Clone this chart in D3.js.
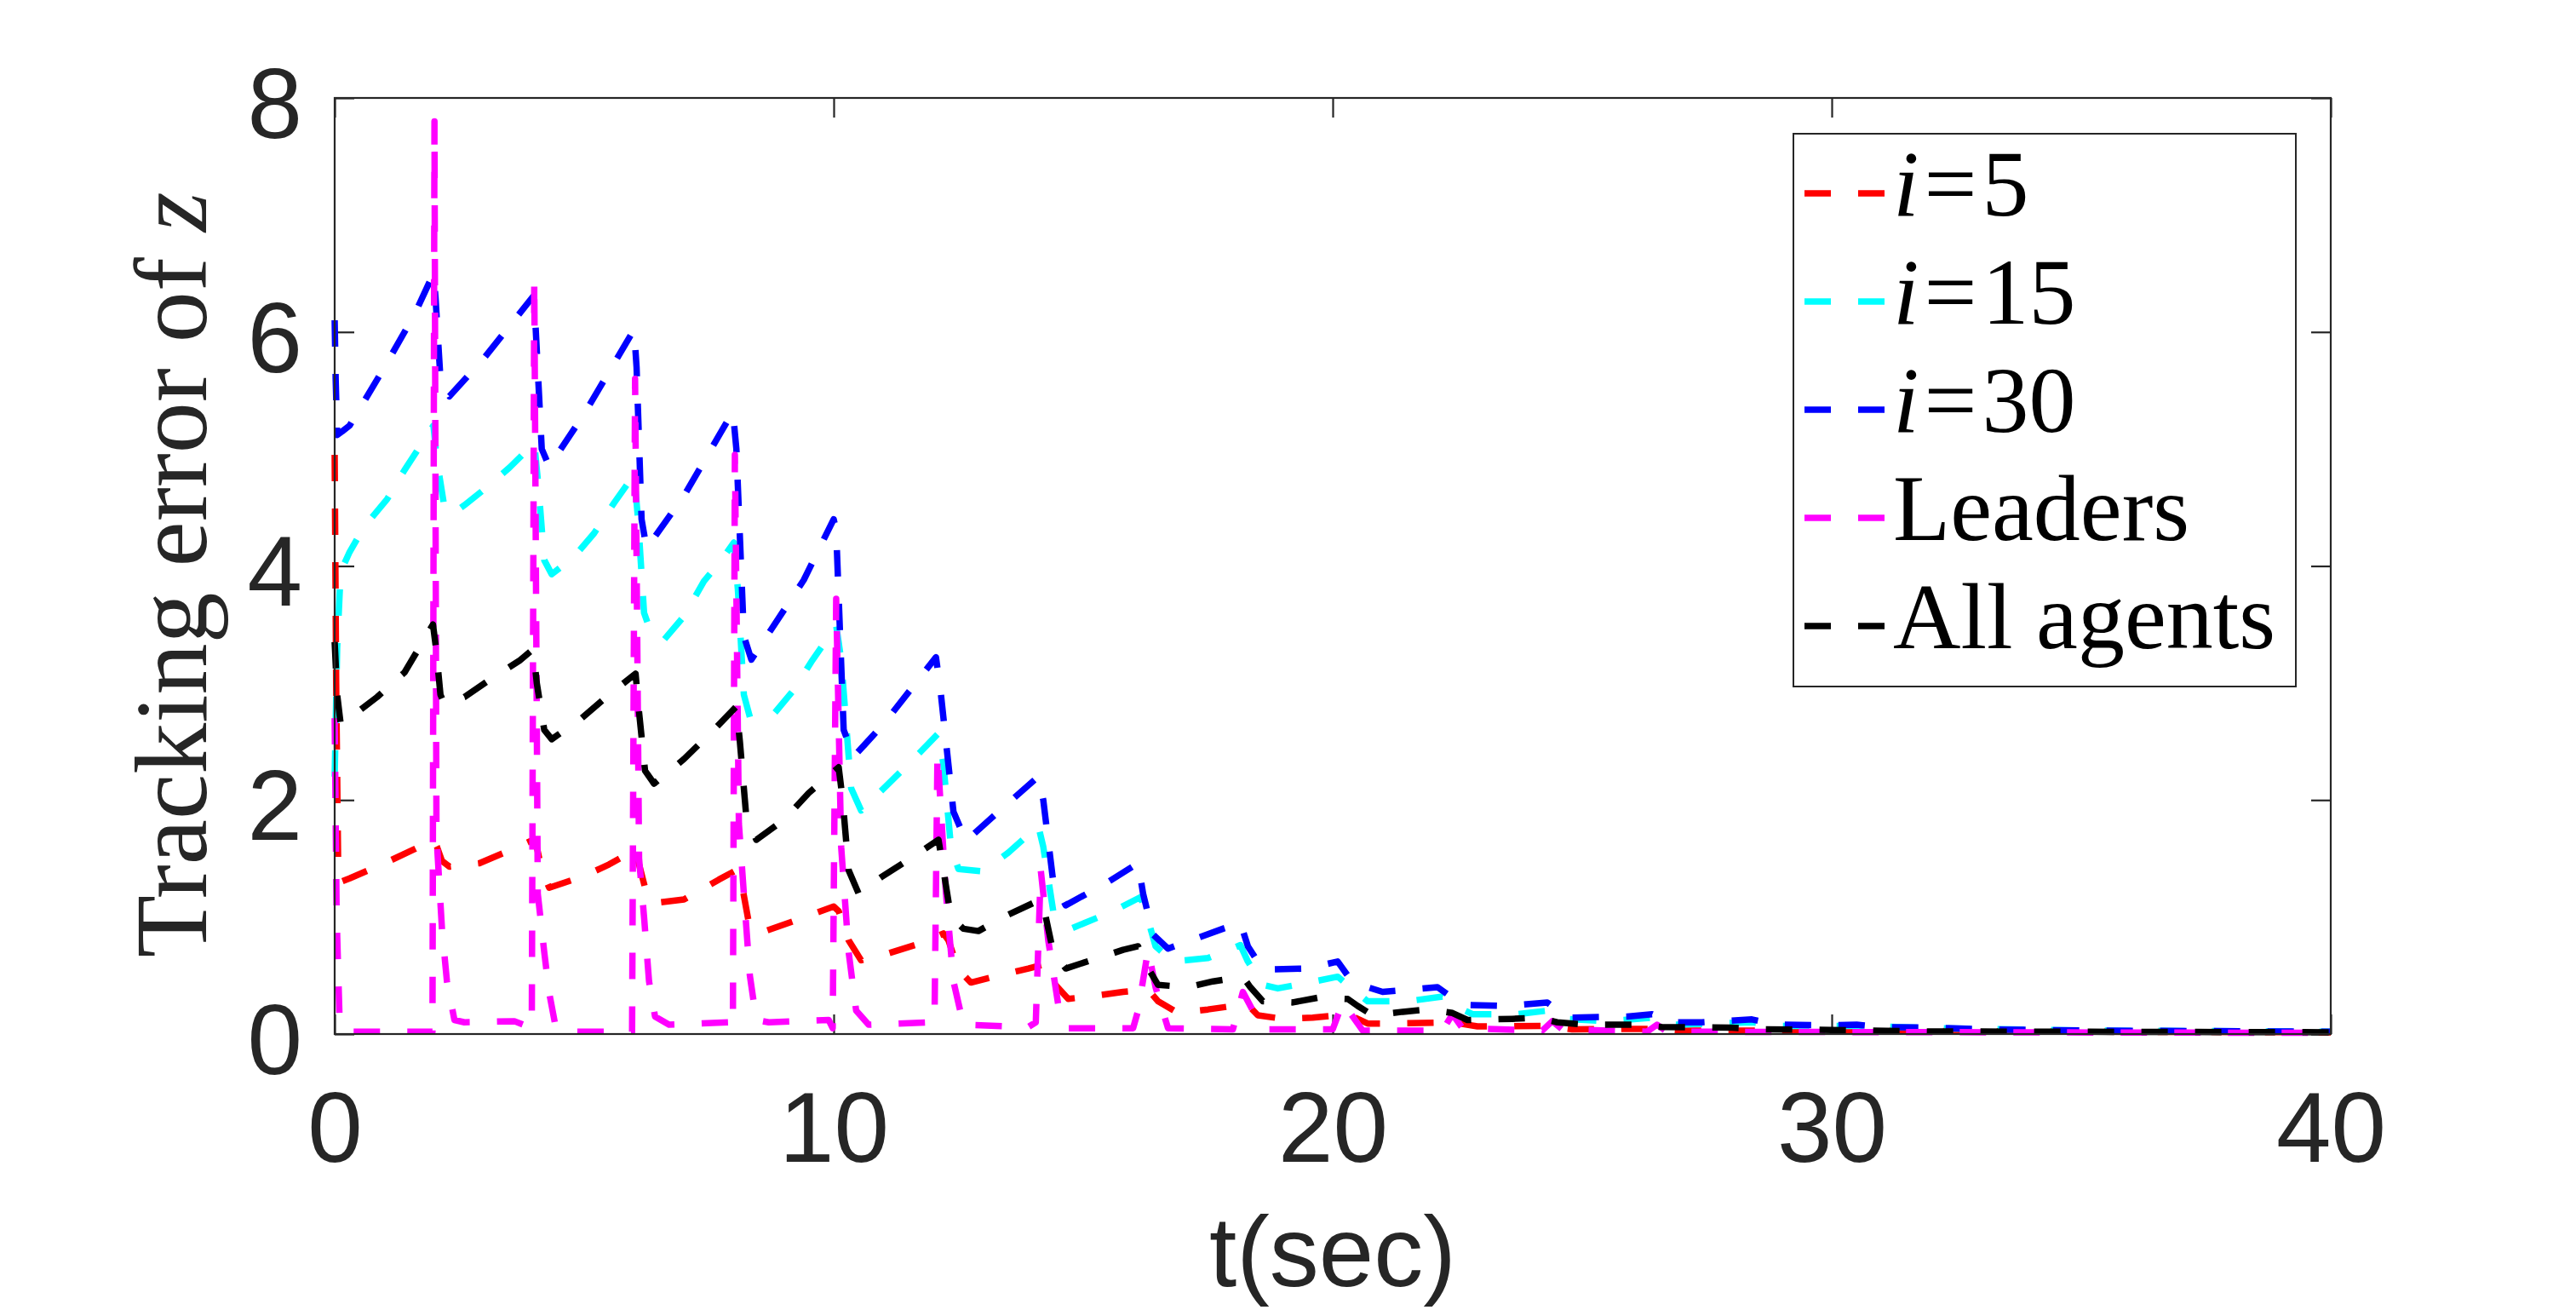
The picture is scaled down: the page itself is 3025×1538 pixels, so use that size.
<!DOCTYPE html>
<html>
<head>
<meta charset="utf-8">
<script src="https://cdn.jsdelivr.net/npm/d3@7"></script>
<style>
body { margin: 0; background: #fff; }
</style>
</head>
<body>
<div id="chart"></div>
<script>
//Size of the SVG
var W = 3025,
	H = 1538;

///////////////////////////////////////////////////////////////////////////
///////////////////////////////// Data ////////////////////////////////////
///////////////////////////////////////////////////////////////////////////

var xTicks = [0, 10, 20, 30, 40],
	yTicks = [0, 2, 4, 6, 8];

var seriesNames = ["i=5", "i=15", "i=30", "Leaders", "All agents"],
	seriesColors = ["#ff0000", "#00ffff", "#0000ff", "#ff00ff", "#000000"];

//[t, error] pairs
var agent5 = [[0,4.95],[0.03,3.0],[0.07,1.45],[0.12,1.3],[0.3,1.33],[1.0,1.46],[1.6,1.58],[1.98,1.66],[2.05,1.6],[2.15,1.48],
	[2.3,1.43],[2.9,1.46],[3.4,1.55],[3.98,1.66],[4.05,1.6],[4.15,1.4],[4.3,1.25],[5.0,1.35],[5.5,1.45],[6.0,1.57],
	[6.1,1.45],[6.25,1.2],[6.4,1.12],[7.0,1.15],[7.7,1.32],[8.05,1.4],[8.15,1.3],[8.3,0.95],[8.5,0.86],[9.3,0.98],
	[10.0,1.09],[10.1,1.05],[10.3,0.8],[10.55,0.63],[11.1,0.69],[11.7,0.77],[12.2,0.86],[12.3,0.8],[12.5,0.55],[12.75,0.44],
	[13.3,0.5],[13.9,0.56],[14.25,0.6],[14.4,0.44],[14.7,0.3],[15.3,0.33],[15.8,0.36],[16.3,0.38],[16.5,0.28],[16.9,0.18],
	[17.5,0.21],[18.0,0.24],[18.3,0.25],[18.5,0.16],[19.0,0.13],[19.6,0.14],[20.3,0.17],[20.7,0.09],[21.2,0.09],[22.4,0.1],
	[22.9,0.065],[24.3,0.07],[24.8,0.04],[26.5,0.045],[27,0.03],[30,0.03],[35,0.02],[40,0.015]];

var agent15 = [[0,2.2],[0.05,3.3],[0.12,3.95],[0.3,4.12],[0.6,4.34],[1.05,4.57],[1.4,4.82],[1.98,5.2],[2.05,4.9],[2.2,4.5],
	[2.35,4.44],[2.6,4.52],[3.1,4.69],[3.5,4.84],[4.0,5.05],[4.08,4.7],[4.2,4.05],[4.35,3.93],[4.8,4.08],[5.2,4.28],
	[5.6,4.54],[6.0,4.78],[6.08,4.4],[6.2,3.6],[6.35,3.42],[6.6,3.37],[7.0,3.57],[7.4,3.87],[7.75,4.05],[8.0,4.2],
	[8.08,3.8],[8.2,2.9],[8.32,2.71],[8.75,2.71],[9.2,2.94],[9.55,3.18],[10.05,3.49],[10.15,3.2],[10.35,2.1],[10.55,1.91],
	[11.1,2.14],[11.6,2.35],[12.1,2.57],[12.2,2.3],[12.35,1.6],[12.5,1.41],[13.0,1.39],[13.5,1.55],[14.1,1.78],[14.2,1.6],
	[14.4,1.05],[14.75,0.9],[15.6,1.05],[16.15,1.17],[16.25,1.05],[16.45,0.75],[16.8,0.62],[17.5,0.65],[18.15,0.76],[18.3,0.62],
	[18.6,0.42],[18.9,0.39],[19.4,0.43],[20.1,0.49],[20.3,0.42],[20.7,0.28],[21.5,0.28],[22.2,0.32],[22.4,0.25],[22.8,0.17],
	[23.7,0.17],[24.3,0.2],[24.6,0.13],[25.5,0.11],[26.4,0.14],[26.8,0.08],[28.4,0.1],[29,0.07],[30.5,0.07],[32,0.05],
	[35,0.03],[40,0.02]];

var agent30 = [[0,6.1],[0.02,5.6],[0.05,5.12],[0.15,5.15],[0.3,5.2],[1.0,5.7],[1.6,6.15],[1.98,6.5],[2.02,6.3],[2.12,5.6],
	[2.3,5.45],[3.0,5.78],[3.97,6.3],[4.02,6.1],[4.15,5.0],[4.3,4.85],[5.0,5.3],[6.0,6.02],[6.05,5.7],[6.15,4.4],
	[6.25,4.15],[7.0,4.6],[7.98,5.32],[8.05,5.0],[8.2,3.4],[8.35,3.2],[9.4,3.88],[10.0,4.4],[10.05,4.3],[10.2,2.6],
	[10.4,2.37],[11.0,2.65],[12.05,3.22],[12.15,2.9],[12.4,1.9],[12.65,1.65],[13.3,1.9],[14.1,2.2],[14.2,2.0],[14.4,1.3],
	[14.65,1.1],[15.5,1.3],[16.1,1.46],[16.2,1.2],[16.4,0.85],[16.7,0.73],[17.8,0.9],[18.15,0.95],[18.3,0.75],[18.6,0.55],
	[19.5,0.56],[20.1,0.62],[20.4,0.44],[21,0.36],[22.1,0.4],[22.6,0.25],[23.5,0.24],[24.3,0.27],[24.7,0.14],[25.9,0.15],
	[26.4,0.17],[26.8,0.1],[27.4,0.1],[28.4,0.125],[28.9,0.08],[29.9,0.075],[30.5,0.08],[31,0.06],[32,0.055],[33,0.04],
	[35,0.03],[40,0.02]];

var leaders = [[0,2.7],[0.04,1.0],[0.1,0.1],[0.3,0.02],[1.96,0.02],[2.0,7.8],[2.04,1.7],[2.15,0.9],[2.25,0.45],[2.4,0.12],
	[2.6,0.1],[3.6,0.11],[3.95,0.05],[4.0,6.45],[4.07,1.2],[4.2,0.7],[4.3,0.35],[4.42,0.08],[4.6,0.02],[5.96,0.02],
	[6.02,5.6],[6.1,1.5],[6.2,1.0],[6.3,0.45],[6.42,0.15],[6.7,0.08],[7.9,0.1],[7.98,0.05],[8.02,4.95],[8.1,1.8],
	[8.2,1.2],[8.32,0.5],[8.45,0.12],[8.7,0.1],[9.9,0.12],[9.98,0.05],[10.05,3.72],[10.15,1.6],[10.3,0.7],[10.45,0.2],
	[10.7,0.08],[11.9,0.1],[12.02,0.1],[12.08,2.4],[12.25,1.2],[12.4,0.45],[12.6,0.08],[13.9,0.06],[14.05,0.1],[14.15,1.4],
	[14.3,0.8],[14.5,0.25],[14.7,0.05],[16.0,0.05],[16.1,0.2],[16.3,0.72],[16.45,0.4],[16.7,0.05],[18.0,0.04],[18.2,0.36],
	[18.4,0.2],[18.7,0.04],[20.0,0.04],[20.2,0.27],[20.4,0.15],[20.6,0.03],[22.2,0.03],[22.4,0.17],[22.6,0.05],[24.2,0.03],
	[24.4,0.11],[24.6,0.04],[26.3,0.02],[26.5,0.08],[26.7,0.02],[40,0.01]];

var allAgents = [[0,3.35],[0.05,2.9],[0.12,2.65],[0.3,2.7],[0.85,2.88],[1.4,3.09],[1.97,3.5],[2.03,3.3],[2.12,2.9],[2.2,2.82],
	[2.6,2.88],[3.15,3.04],[3.7,3.19],[3.98,3.29],[4.05,3.0],[4.2,2.6],[4.35,2.52],[4.95,2.7],[5.5,2.9],[6.03,3.08],
	[6.1,2.75],[6.22,2.25],[6.4,2.14],[7.0,2.35],[7.6,2.6],[8.05,2.8],[8.12,2.5],[8.25,1.85],[8.45,1.66],[9.0,1.83],
	[9.5,2.06],[10.1,2.28],[10.18,2.0],[10.3,1.4],[10.5,1.2],[10.95,1.34],[11.5,1.49],[12.1,1.66],[12.2,1.4],[12.35,1.0],
	[12.6,0.9],[12.9,0.88],[13.4,1.0],[14.15,1.15],[14.25,1.0],[14.4,0.7],[14.65,0.56],[15.3,0.65],[15.8,0.72],[16.1,0.75],
	[16.25,0.6],[16.5,0.42],[17.1,0.4],[17.6,0.45],[18.2,0.49],[18.35,0.4],[18.6,0.28],[19.2,0.27],[19.7,0.31],[20.3,0.3],
	[20.5,0.24],[20.8,0.16],[21.4,0.19],[21.9,0.21],[22.4,0.18],[22.7,0.12],[23.6,0.13],[24.1,0.14],[24.5,0.1],[25.1,0.08],
	[26,0.08],[26.6,0.06],[28,0.055],[28.6,0.04],[30,0.035],[32,0.022],[40,0.015]];

var seriesData = [agent5, agent15, agent30, leaders, allAgents];

///////////////////////////////////////////////////////////////////////////
///////////////////////// Initiate elements ///////////////////////////////
///////////////////////////////////////////////////////////////////////////

var axisColor = "#262626",
	tickFont = "'Liberation Sans', Arial, Helvetica, sans-serif",
	serifFont = "'Liberation Serif', 'Times New Roman', serif",
	dash = "31,32";

var svg = d3.select("#chart").append("svg")
	.attr("width", W)
	.attr("height", H)
	.style("background", "#fff");

var x = d3.scaleLinear().domain([0, 40]).range([393, 2737]),
	y = d3.scaleLinear().domain([0, 8]).range([1214, 115]);

//White plot background
svg.append("rect")
	.attr("x", x(0)).attr("y", y(8))
	.attr("width", x(40) - x(0)).attr("height", y(0) - y(8))
	.style("fill", "#fff");

//Axes, ticks pointing inwards
function styleAxis(g, withText) {
	g.select(".domain").remove();
	g.selectAll(".tick line").style("stroke", axisColor).style("stroke-width", 2.2);
	g.selectAll(".tick text")
		.style("fill", axisColor)
		.style("font-family", tickFont)
		.style("font-size", "116px");
	if (!withText) g.selectAll(".tick text").remove();
}

svg.append("g")
	.attr("transform", "translate(0," + y(0) + ")")
	.call(d3.axisBottom(x).tickValues(xTicks).tickSizeInner(-23).tickSizeOuter(0).tickPadding(68))
	.call(styleAxis, true);

svg.append("g")
	.attr("transform", "translate(0," + y(8) + ")")
	.call(d3.axisTop(x).tickValues(xTicks).tickSizeInner(-23).tickSizeOuter(0))
	.call(styleAxis, false);

var yAxisG = svg.append("g")
	.attr("transform", "translate(" + x(0) + ",0)")
	.call(d3.axisLeft(y).tickValues(yTicks).tickSizeInner(-23).tickSizeOuter(0).tickPadding(38))
	.call(styleAxis, true);
yAxisG.selectAll(".tick text").attr("dy", "0.4em");

svg.append("g")
	.attr("transform", "translate(" + x(40) + ",0)")
	.call(d3.axisRight(y).tickValues(yTicks).tickSizeInner(-23).tickSizeOuter(0))
	.call(styleAxis, false);

///////////////////////////////////////////////////////////////////////////
/////////////////////////////// Lines /////////////////////////////////////
///////////////////////////////////////////////////////////////////////////

var line = d3.line()
	.x(function(d) { return x(d[0]); })
	.y(function(d) { return y(d[1]); });

svg.append("g").attr("class", "lines")
	.selectAll("path")
	.data(seriesData).enter()
	.append("path")
	.attr("d", line)
	.style("fill", "none")
	.style("stroke", function(d, i) { return seriesColors[i]; })
	.style("stroke-width", 7.5)
	.style("stroke-dasharray", dash)
	.style("stroke-linejoin", "round");

//Box on top of the lines
svg.append("rect")
	.attr("x", x(0)).attr("y", y(8))
	.attr("width", x(40) - x(0)).attr("height", y(0) - y(8))
	.style("fill", "none")
	.style("stroke", axisColor)
	.style("stroke-width", 2.2);

///////////////////////////////////////////////////////////////////////////
/////////////////////////////// Labels ////////////////////////////////////
///////////////////////////////////////////////////////////////////////////

svg.append("text")
	.attr("x", (x(0) + x(40)) / 2)
	.attr("y", 1510)
	.attr("text-anchor", "middle")
	.style("font-family", tickFont)
	.style("font-size", "116px")
	.style("fill", axisColor)
	.text("t(sec)");

var yLabel = svg.append("text")
	.attr("transform", "translate(242," + 675 + ") rotate(-90)")
	.attr("text-anchor", "middle")
	.style("font-family", serifFont)
	.style("font-size", "120px")
	.style("fill", axisColor);
yLabel.append("tspan").text("Tracking error of ");
yLabel.append("tspan").style("font-style", "italic").text("z");

///////////////////////////////////////////////////////////////////////////
/////////////////////////////// Legend ////////////////////////////////////
///////////////////////////////////////////////////////////////////////////

var legend = svg.append("g").attr("class", "legend");

legend.append("rect")
	.attr("x", 2106).attr("y", 157)
	.attr("width", 590).attr("height", 649)
	.style("fill", "#fff")
	.style("stroke", axisColor)
	.style("stroke-width", 2);

var rowH = 127,
	firstRow = 227;

var item = legend.selectAll("g.item")
	.data(seriesNames).enter()
	.append("g")
	.attr("class", "item")
	.attr("transform", function(d, i) { return "translate(0," + (firstRow + i * rowH) + ")"; });

item.append("line")
	.attr("x1", 2119).attr("x2", 2213)
	.attr("y1", 0).attr("y2", 0)
	.style("stroke", function(d, i) { return seriesColors[i]; })
	.style("stroke-width", 7.5)
	.style("stroke-dasharray", dash);

var label = item.append("text")
	.attr("x", 2223)
	.attr("y", 26)
	.style("font-family", serifFont)
	.style("font-size", "110px")
	.style("fill", "#000");

label.each(function(d) {
	var t = d3.select(this);
	if (d.indexOf("i=") === 0) {
		t.append("tspan").style("font-style", "italic").text("i");
		t.append("tspan").attr("dx", 6).text("=");
		t.append("tspan").attr("dx", 6).text(d.slice(2));
	} else {
		t.text(d);
	}
});
</script>
</body>
</html>
